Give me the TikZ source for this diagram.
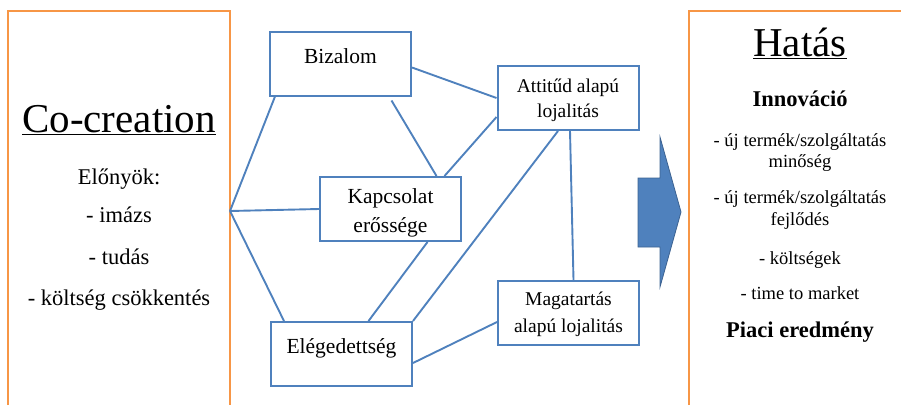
\documentclass[tikz,border=0pt]{standalone}
\usepackage{fontspec}
\setmainfont{Liberation Serif}
\definecolor{lineblue}{RGB}{79,129,189}
\definecolor{arrowedge}{RGB}{60,98,145}
\definecolor{panelorange}{RGB}{247,150,70}
\usetikzlibrary{calc}

\begin{document}
\begin{tikzpicture}[x=1pt, y=-1pt]
    \tikzset{panel/.style={draw=panelorange, line width=1.6pt}}
    \tikzset{relbox/.style={rectangle, draw=lineblue, line width=2pt, fill=white,
      minimum width=141pt, minimum height=64pt, inner sep=0pt}}
    \tikzset{link/.style={draw=lineblue, line width=1.9pt}}
    \tikzset{bigtxt/.style={anchor=base, inner sep=0pt, font=\fontsize{21.5}{26}\selectfont}}
    \tikzset{smalltxt/.style={anchor=base, inner sep=0pt, font=\fontsize{19.5}{24}\selectfont}}
    \tikzset{headtxt/.style={anchor=base, inner sep=0pt, font=\fontsize{41}{49}\selectfont}}
    \tikzset{listtxt/.style={anchor=base, inner sep=0pt, font=\fontsize{22.5}{27}\selectfont}}
    \tikzset{efftxt/.style={anchor=base, inner sep=0pt, font=\fontsize{18.5}{22}\selectfont}}
    \tikzset{efftitle/.style={anchor=base, inner sep=0pt, font=\bfseries\fontsize{22.5}{27}\selectfont}}

    \useasboundingbox (0,0) rectangle (901,405);

    % Co-creation panel
    \draw[panel] (8,405) |- (230,11) -- (230,405);
    \coordinate (hub) at (230,211);
    \node[headtxt] (cocreation) at (119,132) {\underline{Co-creation}};
    \node[listtxt] (elonyok) at (119,184) {Előnyök:};
    \node[listtxt] (imazs) at (119,222) {- imázs};
    \node[listtxt] (tudas) at (119,264) {- tudás};
    \node[listtxt] (koltseg) at (119,305) {- költség csökkentés};

    % Relationship boxes
    \node[relbox] (bizalom) at (340.5,63.5) {};
    \node[bigtxt] (bizalomtxt) at (340.5,63) {Bizalom};
    \node[relbox] (kapcsolat) at (390.5,209) {};
    \node[bigtxt] (kapcsolattxt) at (390.5,203) {Kapcsolat};
    \node[bigtxt] (erossegetxt) at (390.5,232) {erőssége};
    \node[relbox] (eleg) at (341.5,354) {};
    \node[bigtxt] (elegtxt) at (341.5,353) {Elégedettség};
    \node[relbox] (attitud) at (568,98) {};
    \node[smalltxt] (attitudtxt) at (568,92) {Attitűd alapú};
    \node[smalltxt] (lojaltxt) at (568,117) {lojalitás};
    \node[relbox] (magatartas) at (568.5,313) {};
    \node[smalltxt] (magatartastxt) at (568.5,305) {Magatartás};
    \node[smalltxt] (alaputxt) at (568.5,332) {alapú lojalitás};

    % Links from co-creation
    \draw[link] (hub) -- ([xshift=6pt]bizalom.south west);
    \draw[link] (hub) -- (kapcsolat.west);
    \draw[link] (hub) -- ([xshift=14pt]eleg.north west);

    % Links between boxes
    \draw[link] ([yshift=-4pt]bizalom.east) -- (attitud.west);
    \draw[link] ([xshift=51pt,yshift=-4pt]bizalom.south) -- ([xshift=46pt]kapcsolat.north);
    \draw[link] ([xshift=54pt]kapcsolat.north) -- ([yshift=-19pt]attitud.west);
    \draw[link] ([xshift=37pt]kapcsolat.south) -- ([xshift=27pt]eleg.north);
    \draw[link] ([xshift=-10pt]attitud.south) -- (eleg.north east);
    \draw[link] ([xshift=2pt]attitud.south) -- ([xshift=5pt]magatartas.north);
    \draw[link] ([yshift=-9pt]eleg.east) -- ([yshift=-9pt]magatartas.west);

    % Block arrow
    \draw[fill=lineblue, draw=arrowedge, line width=0.8pt, line join=miter]
      (638,178) -- (660,178) -- (660,137) -- (681,212) -- (660,287) -- (660,247) -- (638,247) -- cycle;

    % Hatas panel
    \draw[panel] (689,405) |- (901,11);
    \node[headtxt] (hatas) at (800,56) {\underline{Hatás}};
    \node[efftitle] (innovacio) at (800,106) {Innováció};
    \node[efftxt] (ujtermek1) at (800,146) {- új termék/szolgáltatás};
    \node[efftxt] (minoseg) at (800,167) {minőség};
    \node[efftxt] (ujtermek2) at (800,203) {- új termék/szolgáltatás};
    \node[efftxt] (fejlodes) at (800,225) {fejlődés};
    \node[efftxt] (koltsegek) at (800,264) {- költségek};
    \node[efftxt] (timetomarket) at (800,299) {- time to market};
    \node[efftitle] (piaci) at (800,337) {Piaci eredmény};
\end{tikzpicture}
\end{document}
